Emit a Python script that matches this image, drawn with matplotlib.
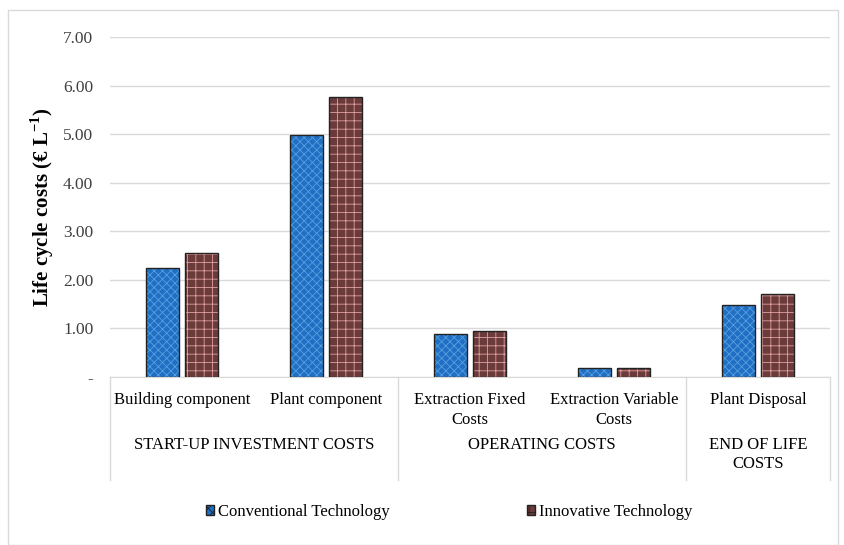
import matplotlib
matplotlib.use("Agg")
import matplotlib.pyplot as plt
from matplotlib.patches import Rectangle
import numpy as np

categories = ["Building component", "Plant component", "Extraction Fixed\nCosts",
              "Extraction Variable\nCosts", "Plant Disposal"]
groups = ["START-UP INVESTMENT COSTS", "OPERATING COSTS", "END OF LIFE\nCOSTS"]
group_spans = [(0, 1), (2, 3), (4, 4)]
conventional = [2.24, 4.98, 0.88, 0.19, 1.48]
innovative = [2.55, 5.76, 0.95, 0.18, 1.71]

plt.rcParams["font.family"] = ["Liberation Serif", "DejaVu Serif"]
plt.rcParams["hatch.linewidth"] = 0.6

fig = plt.figure(figsize=(8.45, 5.45), dpi=100)
fig.patches.append(Rectangle((8 / 845, 0.0), 830 / 845, 1 - 10 / 545, transform=fig.transFigure,
                             fill=False, edgecolor="#d9d9d9", linewidth=1))
ax = fig.add_axes([110 / 845, 1 - 377 / 545, 720 / 845, 340 / 545])

x = np.arange(len(categories))
w = 0.23
gap = 0.02
blue, blue_h = "#1f6fc4", "#5a9ee0"
brown, brown_h = "#6b3a3a", "#e0a0a0"

ax.bar(x - w / 2 - gap, conventional, w, color=blue, edgecolor=blue_h, hatch="xxxx", linewidth=0, zorder=2)
ax.bar(x - w / 2 - gap, conventional, w, fill=False, edgecolor="#222222", linewidth=1, zorder=3)
ax.bar(x + w / 2 + gap, innovative, w, color=brown, edgecolor=brown_h, hatch="++", linewidth=0, zorder=2)
ax.bar(x + w / 2 + gap, innovative, w, fill=False, edgecolor="#222222", linewidth=1, zorder=3)

ax.set_xlim(-0.5, len(categories) - 0.5)
ax.set_ylim(0, 7)
yt = np.arange(0, 8, 1)
ax.set_yticks(yt)
ax.set_yticklabels(["-"] + ["%.2f" % v for v in yt[1:]], fontsize=12.5, color="#404040")
ax.tick_params(axis="y", length=0, pad=12)
ax.grid(axis="y", color="#d9d9d9", linewidth=1, zorder=0)
for s in ["top", "right", "left"]:
    ax.spines[s].set_visible(False)
ax.spines["bottom"].set_color("#d9d9d9")

ax.set_xticks(x)
ax.set_xticklabels(categories, fontsize=12, va="top", linespacing=1.3)
ax.tick_params(axis="x", length=0, pad=11)

tr = ax.get_xaxis_transform()
for xb in [-0.5, 1.5, 3.5, 4.5]:
    ax.plot([xb, xb], [0, -0.303], transform=tr, color="#d9d9d9", lw=1, clip_on=False)
for name, (a, b) in zip(groups, group_spans):
    ax.text((a + b) / 2, -0.176, name, transform=tr, ha="center", va="top", fontsize=12, linespacing=1.3)

ax.set_ylabel("Life cycle costs (€ L$^{\\mathregular{-1}}$)", fontsize=15, fontweight="bold")
ax.yaxis.set_label_coords(-0.075, 0.5)

handles = [Rectangle((0, 0), 1, 1, facecolor=blue, edgecolor="#222222", hatch="xxxx"),
           Rectangle((0, 0), 1, 1, facecolor=brown, edgecolor="#222222", hatch="++")]
fig.legend(handles, ["Conventional Technology", "Innovative Technology"], loc="center",
           bbox_to_anchor=(449 / 845, 1 - 512 / 545), ncol=2, frameon=False, fontsize=12,
           handlelength=0.5, handleheight=0.5, handletextpad=0.25, columnspacing=8.2)

fig.savefig("out.png", dpi=100)
